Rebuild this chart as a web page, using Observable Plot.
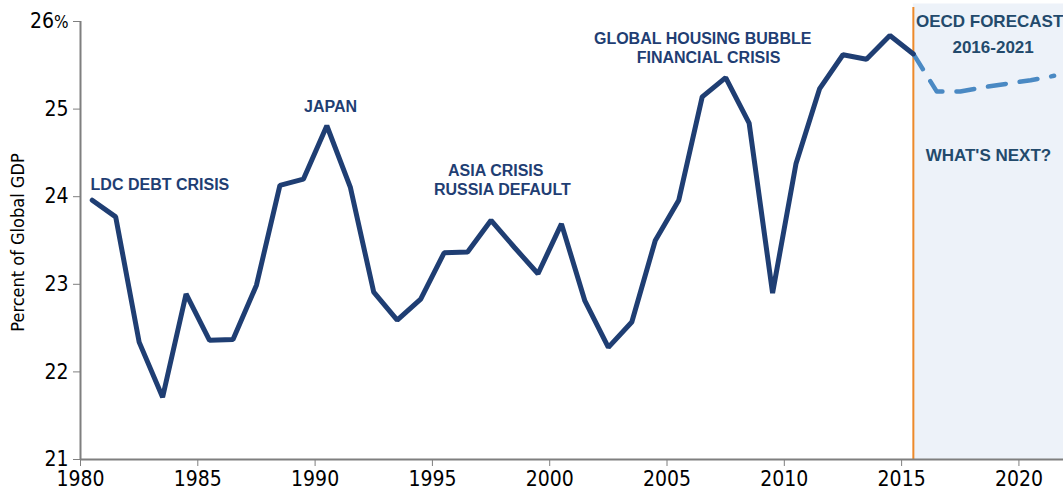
<!DOCTYPE html>
<html>
<head>
<meta charset="utf-8">
<script src="https://cdn.jsdelivr.net/npm/d3@7"></script>
<script src="https://cdn.jsdelivr.net/npm/@observablehq/plot@0.6"></script>
<style>
  html, body { margin: 0; padding: 0; background: #fff; }
  #chart svg { display: block; }
</style>
</head>
<body>
<div id="chart"></div>
<script>
// ---- data ----
const years = [1980,1981,1982,1983,1984,1985,1986,1987,1988,1989,1990,1991,1992,1993,1994,1995,1996,1997,1998,1999,2000,2001,2002,2003,2004,2005,2006,2007,2008,2009,2010,2011,2012,2013,2014,2015];
const values = [23.96,23.77,22.34,21.71,22.89,22.36,22.37,22.99,24.13,24.20,24.81,24.11,22.91,22.59,22.83,23.36,23.37,23.73,23.42,23.12,23.69,22.81,22.28,22.57,23.50,23.96,25.14,25.36,24.84,22.90,24.38,25.23,25.62,25.57,25.84,25.63];
const forecastYears = [2016,2017,2018,2019,2020,2021];
const forecastValues = [25.20,25.20,25.25,25.29,25.33,25.38];
const xTicks = [1980,1985,1990,1995,2000,2005,2010,2015,2020];
const yTicks = [21,22,23,24,25,26];

const actual = years.map((y, i) => ({year: y, value: values[i]}));
const forecast = [actual[actual.length - 1]].concat(forecastYears.map((y, i) => ({year: y, value: forecastValues[i]})));

const navy = "#1f3e73";
const tickFont = "'Liberation Sans Narrow', 'DejaVu Sans Condensed', sans-serif";
const annFont = "'Liberation Sans', Arial, sans-serif";

const chart = Plot.plot({
  width: 1063,
  height: 493,
  marginLeft: 80,
  marginRight: 0,
  marginTop: 21,
  marginBottom: 34,
  x: {domain: [1980, 2021.9]},
  y: {domain: [21, 26]},
  style: {fontFamily: tickFont, background: "#fff", overflow: "visible"},
  marks: [
    // forecast shading
    Plot.rect([0], {x1: 2015.5, x2: 2021.9, y1: 21, y2: 26.2, fill: "#edf2f9", clip: false}),
    Plot.ruleX([2015.5], {y1: 21, y2: 26.16, stroke: "#ee8a2a", strokeWidth: 2}),
    // axes
    Plot.axisY({ticks: yTicks, tickSize: 7, tickPadding: 5, stroke: "#7f7f7f", fill: "#000",
      tickFormat: d => d === 26 ? "26%" : String(d), fontSize: 21, label: null}),
    Plot.axisX({ticks: xTicks, tickSize: 7, tickPadding: 5, stroke: "#7f7f7f", fill: "#000",
      tickFormat: d => String(d), fontSize: 21, label: null}),
    Plot.ruleX([1980], {y1: 21, y2: 26, stroke: "#7f7f7f", strokeWidth: 2}),
    Plot.ruleY([21], {x1: 1980, x2: 2021.9, stroke: "#7f7f7f", strokeWidth: 2}),
    // y label
    Plot.text(["Percent of Global GDP"], {frameAnchor: "left", textAnchor: "middle", dx: -62, dy: 2, rotate: -90,
      fontSize: 18, fill: "#000", fontFamily: tickFont}),
    // lines
    Plot.line(forecast, {x: d => d.year + 0.5, y: "value", stroke: "#4a89c3", strokeWidth: 4.5,
      strokeDasharray: "18,14", strokeLinejoin: "round", strokeLinecap: "round"}),
    Plot.line(actual, {x: d => d.year + 0.5, y: "value", stroke: navy, strokeWidth: 5,
      strokeLinejoin: "miter"}),
    // annotations
    Plot.text(["LDC DEBT CRISIS"], {x: 1980.43, y: 24.14, textAnchor: "start", fill: navy,
      fontFamily: annFont, fontWeight: "bold", fontSize: 16}),
    Plot.text(["JAPAN"], {x: 1990.66, y: 25.02, fill: navy, fontFamily: annFont, fontWeight: "bold", fontSize: 16}),
    Plot.text(["ASIA CRISIS"], {x: 1997.7, y: 24.29, fill: navy, fontFamily: annFont, fontWeight: "bold", fontSize: 16}),
    Plot.text(["RUSSIA DEFAULT"], {x: 1997.98, y: 24.08, fill: navy, fontFamily: annFont, fontWeight: "bold", fontSize: 16}),
    Plot.text(["GLOBAL HOUSING BUBBLE"], {x: 2006.52, y: 25.80, fill: navy, fontFamily: annFont, fontWeight: "bold", fontSize: 16}),
    Plot.text(["FINANCIAL CRISIS"], {x: 2006.77, y: 25.59, fill: navy, fontFamily: annFont, fontWeight: "bold", fontSize: 16}),
    Plot.text(["OECD FORECAST"], {x: 2018.75, y: 26.0, fill: "#234a6c", fontFamily: annFont, fontWeight: "bold", fontSize: 17}),
    Plot.text(["2016-2021"], {x: 2018.9, y: 25.70, fill: "#234a6c", fontFamily: annFont, fontWeight: "bold", fontSize: 17}),
    Plot.text(["WHAT'S NEXT?"], {x: 2018.7, y: 24.47, fill: "#234a6c", fontFamily: annFont, fontWeight: "bold", fontSize: 17})
  ]
});
// smaller percent sign on the top tick label
d3.select(chart).selectAll("text").each(function() {
  if (this.textContent === "26%") {
    const t = d3.select(this);
    t.text("26");
    t.append("tspan").attr("font-size", 17).text("%");
  }
});
document.getElementById("chart").appendChild(chart);
</script>
</body>
</html>
